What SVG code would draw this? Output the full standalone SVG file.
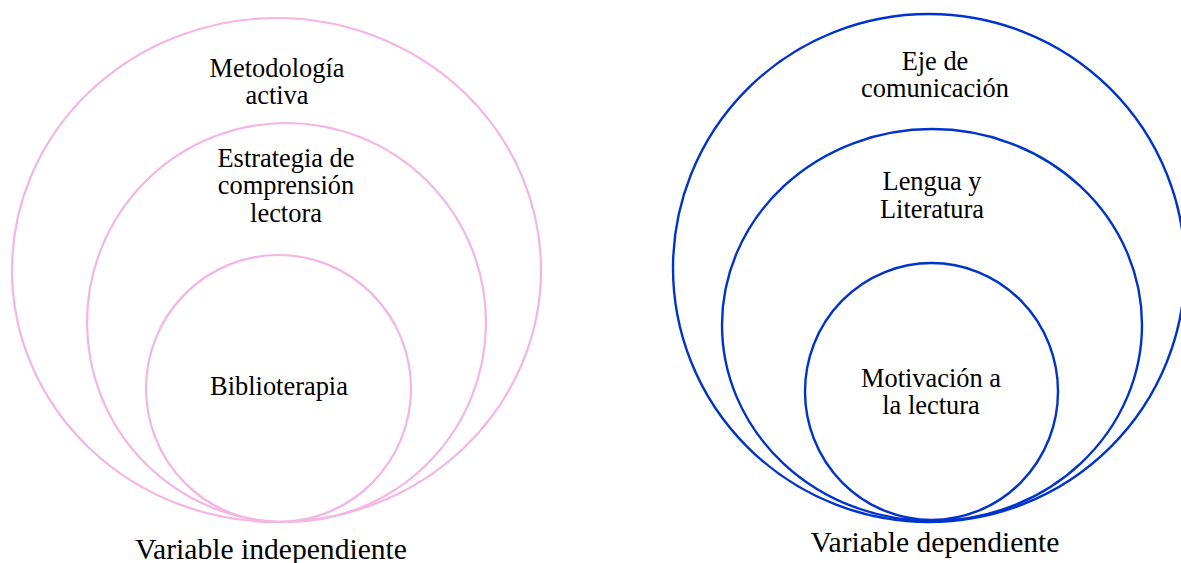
<svg xmlns="http://www.w3.org/2000/svg" width="1181" height="563" viewBox="0 0 1181 563">
<style>
.pink{fill:none;stroke:#F4B5E5;stroke-width:2.2}
.blue{fill:none;stroke:#0033CC;stroke-width:2.4}
.lbl{font-family:"Liberation Serif","Times New Roman",serif;font-size:26.4px;fill:#000;text-anchor:middle}
.cap{font-family:"Liberation Serif","Times New Roman",serif;font-size:29.6px;fill:#000;text-anchor:middle}
</style>
<rect width="1181" height="563" fill="#fff"/>
<g id="metodologia">
<ellipse class="pink" cx="276.5" cy="270" rx="264.5" ry="252"/>
<text class="lbl" x="277" y="77">Metodología</text>
<text class="lbl" x="277" y="104">activa</text>
</g>
<g id="estrategia">
<ellipse class="pink" cx="286.5" cy="322.5" rx="199.5" ry="199.5"/>
<text class="lbl" x="286" y="167">Estrategia de</text>
<text class="lbl" x="286" y="194">comprensión</text>
<text class="lbl" x="286" y="222">lectora</text>
</g>
<g id="biblioterapia">
<ellipse class="pink" cx="278.5" cy="388.5" rx="132.5" ry="133.5"/>
<text class="lbl" x="279" y="395">Biblioterapia</text>
</g>
<g id="eje">
<ellipse class="blue" cx="929" cy="268" rx="256" ry="254"/>
<text class="lbl" x="935" y="70">Eje de</text>
<text class="lbl" x="935" y="97">comunicación</text>
</g>
<g id="lengua">
<ellipse class="blue" cx="932" cy="325" rx="210" ry="196"/>
<text class="lbl" x="932" y="190">Lengua y</text>
<text class="lbl" x="932" y="218">Literatura</text>
</g>
<g id="motivacion">
<ellipse class="blue" cx="931.5" cy="391.5" rx="126.5" ry="128.5"/>
<text class="lbl" x="931" y="387">Motivación a</text>
<text class="lbl" x="931" y="414">la lectura</text>
</g>
<g id="connectors"></g>
<text class="cap" x="271" y="559">Variable independiente</text>
<text class="cap" x="935" y="552">Variable dependiente</text>
</svg>
